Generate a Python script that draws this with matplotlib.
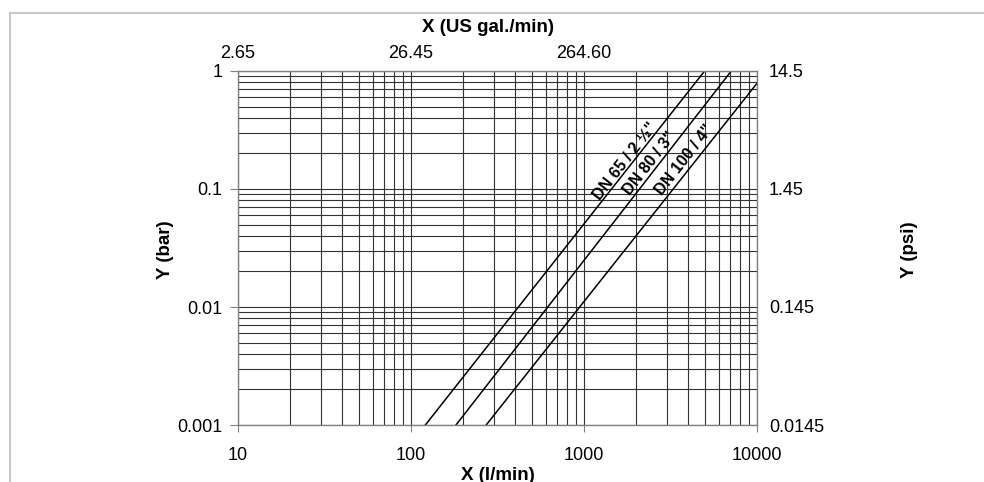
import matplotlib.pyplot as plt
from matplotlib.lines import Line2D
from matplotlib.ticker import LogLocator, NullFormatter

plt.rcParams['font.family'] = ['Liberation Sans', 'DejaVu Sans']

# flow (l/min) vs pressure loss (bar)
flow_dn65 = [121, 4980]
dp_dn65 = [0.001, 1.0]
flow_dn80 = [182, 7100]
dp_dn80 = [0.001, 1.0]
flow_dn100 = [272, 10000]
dp_dn100 = [0.001, 0.787]

curve_labels = ['DN 65 / 2 \u00bd"', 'DN 80 / 3"', 'DN 100 / 4"']
label_x = [1720, 2400, 3800]
label_y = [0.172, 0.166, 0.176]

x_ticks = [10, 100, 1000, 10000]
y_ticks = [0.001, 0.01, 0.1, 1]
y_ticklabels = ['0.001', '0.01', '0.1', '1']
gpm_ticks = [10, 100, 1000]
gpm_labels = ['2.65', '26.45', '264.60']
psi_labels = ['0.0145', '0.145', '1.45', '14.5']

fig = plt.figure(figsize=(9.84, 4.82), dpi=100)
ax = fig.add_axes([238 / 984, 1 - 425 / 482, 519 / 984, 354 / 482])
ax.set_xscale('log')
ax.set_yscale('log')
ax.set_xlim(10, 10000)
ax.set_ylim(0.001, 1)

# grid, major + minor
ax.xaxis.set_minor_locator(LogLocator(base=10, subs=range(2, 10)))
ax.yaxis.set_minor_locator(LogLocator(base=10, subs=range(2, 10)))
ax.xaxis.set_minor_formatter(NullFormatter())
ax.yaxis.set_minor_formatter(NullFormatter())
ax.grid(True, which='both', color='#333333', linewidth=0.8)
ax.set_axisbelow(True)

for s in ax.spines.values():
    s.set_color('#808080')
    s.set_linewidth(1)

ax.set_xticks(x_ticks, [str(v) for v in x_ticks])
ax.set_yticks(y_ticks, y_ticklabels)
ax.tick_params(axis='x', which='major', length=5, color='#808080', labelsize=13, pad=11)
ax.tick_params(axis='y', which='major', length=6, color='#808080', labelsize=13, pad=5)
ax.tick_params(which='minor', length=0)

for fx, dy in [(flow_dn65, dp_dn65), (flow_dn80, dp_dn80), (flow_dn100, dp_dn100)]:
    ax.plot(fx, dy, color='black', linewidth=1.1)

for txt, lx, ly in zip(curve_labels, label_x, label_y):
    ax.text(lx, ly, txt, rotation=52, ha='center', va='center', fontsize=11.5,
            fontweight='bold', family=['Liberation Sans Narrow', 'Liberation Sans', 'DejaVu Sans'])

# secondary scales (US gal/min on top, psi on right)
top = ax.secondary_xaxis('top')
top.set_xticks(gpm_ticks, gpm_labels)
top.xaxis.set_minor_locator(plt.NullLocator())
top.tick_params(length=0, labelsize=13, pad=6.5)
top.spines['top'].set_visible(False)

right = ax.twinx()
right.set_yscale('log')
right.set_ylim(0.001, 1)
right.set_yticks(y_ticks, psi_labels)
right.yaxis.set_minor_locator(plt.NullLocator())
right.tick_params(length=0, labelsize=13, pad=8.5)
for s in right.spines.values():
    s.set_visible(False)

fig.text(488 / 984, 1 - 28 / 482, 'X (US gal./min)', ha='center', va='center', fontsize=13.5, fontweight='bold')
fig.text(498 / 984, 1 - 475 / 482, 'X (l/min)', ha='center', va='center', fontsize=13.5, fontweight='bold')
fig.text(166 / 984, 1 - 250 / 482, 'Y (bar)', ha='center', va='center', rotation=90, fontsize=13.5, fontweight='bold')
fig.text(909 / 984, 1 - 250 / 482, 'Y (psi)', ha='center', va='center', rotation=90, fontsize=13.5, fontweight='bold')

# outer frame
fig.add_artist(Line2D([10 / 984, 10 / 984], [0, 1 - 13 / 482], color='#c8c8c8', linewidth=1.5))
fig.add_artist(Line2D([10 / 984, 983 / 984], [1 - 13 / 482, 1 - 13 / 482], color='#c8c8c8', linewidth=1.5))

fig.savefig('out.png', dpi=100)
